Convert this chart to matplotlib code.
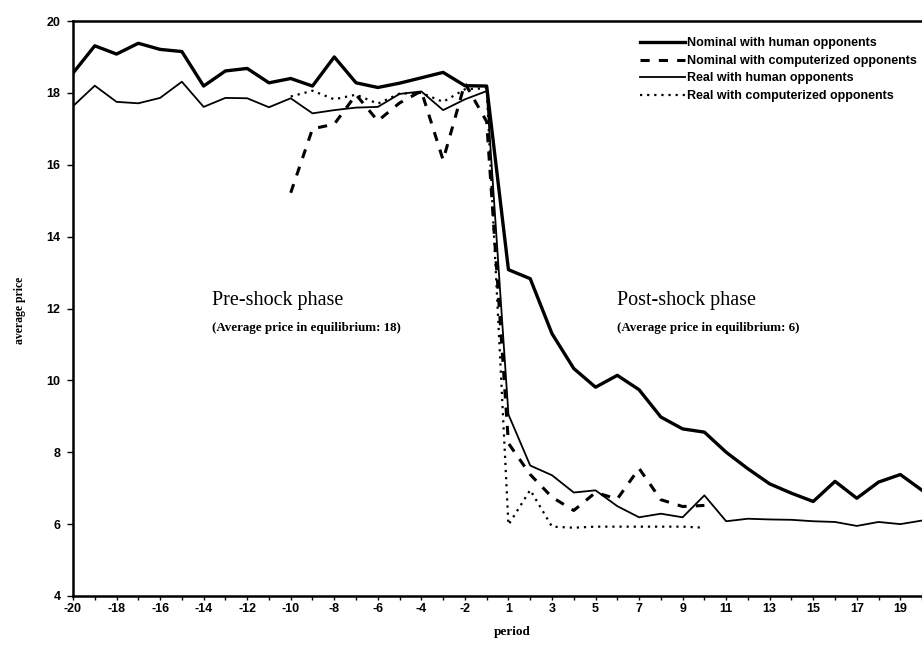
import numpy as np
import matplotlib
matplotlib.use("Agg")
import matplotlib.pyplot as plt

nan = np.nan

periods = list(range(-20, 0)) + list(range(1, 21))

nominal_human = [18.55, 19.31, 19.08, 19.38, 19.21, 19.15, 18.19, 18.61, 18.68, 18.28,
                 18.40, 18.19, 19.00, 18.28, 18.15, 18.27, 18.42, 18.57, 18.20, 18.19,
                 13.08, 12.83, 11.30, 10.33, 9.81, 10.14, 9.74, 8.98, 8.65, 8.56,
                 8.00, 7.54, 7.12, 6.86, 6.63, 7.19, 6.72, 7.17, 7.38, 6.94]

nominal_comp = [nan, nan, nan, nan, nan, nan, nan, nan, nan, nan,
                15.22, 17.00, 17.13, 17.95, 17.22, 17.72, 18.05, 16.13, 18.27, 17.20,
                8.25, 7.38, 6.75, 6.38, 6.88, 6.70, 7.55, 6.68, 6.49, 6.52,
                nan, nan, nan, nan, nan, nan, nan, nan, nan, nan]

real_human = [17.63, 18.20, 17.75, 17.71, 17.86, 18.31, 17.61, 17.86, 17.85, 17.60,
              17.85, 17.43, 17.52, 17.59, 17.61, 17.97, 18.04, 17.52, 17.82, 18.05,
              9.05, 7.63, 7.36, 6.88, 6.94, 6.50, 6.19, 6.29, 6.19, 6.80,
              6.08, 6.15, 6.13, 6.12, 6.08, 6.06, 5.95, 6.06, 6.00, 6.10]

real_comp = [nan, nan, nan, nan, nan, nan, nan, nan, nan, nan,
             17.90, 18.06, 17.82, 17.95, 17.70, 17.98, 18.00, 17.75, 18.10, 18.13,
             5.98, 6.95, 5.93, 5.90, 5.93, 5.93, 5.93, 5.93, 5.93, 5.90,
             nan, nan, nan, nan, nan, nan, nan, nan, nan, nan]

labels = ["Nominal with human opponents", "Nominal with computerized opponents",
          "Real with human opponents", "Real with computerized opponents"]

x = np.arange(len(periods))

fig = plt.figure(figsize=(9.22, 6.45), dpi=100)
ax = fig.add_axes([73 / 922, 1 - 596 / 645, 860 / 922, 575 / 645])

ax.plot(x, nominal_human, color="black", linewidth=2.4, label=labels[0])
ax.plot(x, nominal_comp, color="black", linewidth=2.2, linestyle=(0, (3, 3)), label=labels[1])
ax.plot(x, real_human, color="black", linewidth=1.3, label=labels[2])
ax.plot(x, real_comp, color="black", linewidth=1.6, linestyle=(0, (1, 2.2)), label=labels[3])

ax.set_xlim(0, 39.5)
ax.set_ylim(4, 20)

ax.set_xticks(x)
ax.set_xticklabels([str(p) if i % 2 == 0 else "" for i, p in enumerate(periods)])
ax.set_yticks(np.arange(4, 21, 2))
for lab in ax.get_xticklabels() + ax.get_yticklabels():
    lab.set_fontfamily("Liberation Sans")
    lab.set_fontweight("bold")
    lab.set_fontsize(9)
ax.tick_params(axis="x", direction="out", length=3, width=1, pad=2)
ax.tick_params(axis="y", direction="out", length=4, width=1, pad=5)

for side in ["left", "bottom", "top", "right"]:
    ax.spines[side].set_linewidth(1.8)

ax.text(6.4, 12.23, "Pre-shock phase", fontfamily="Liberation Serif", fontsize=14.5, va="center", ha="left")
ax.text(6.4, 11.45, "(Average price in equilibrium: 18)", fontfamily="Liberation Serif",
        fontsize=9.4, fontweight="bold", va="center", ha="left")
ax.text(25.0, 12.23, "Post-shock phase", fontfamily="Liberation Serif", fontsize=14.5, va="center", ha="left")
ax.text(25.0, 11.45, "(Average price in equilibrium: 6)", fontfamily="Liberation Serif",
        fontsize=9.4, fontweight="bold", va="center", ha="left")

fig.text(20 / 922, 1 - 310 / 645, "average price", rotation=90, fontfamily="Liberation Serif",
         fontsize=8.5, fontweight="bold", va="center", ha="center")
fig.text(512 / 922, 1 - 632 / 645, "period", fontfamily="Liberation Serif",
         fontsize=9.5, fontweight="bold", va="center", ha="center")

leg = ax.legend(loc="upper left", bbox_to_anchor=(634 / 922, 1 - 31 / 645),
                bbox_transform=fig.transFigure, frameon=False,
                prop={"family": "Liberation Sans", "weight": "bold", "size": 9},
                handlelength=3.6, handletextpad=0.1, labelspacing=0.45, borderpad=0)

fig.savefig("out.png", dpi=100)
